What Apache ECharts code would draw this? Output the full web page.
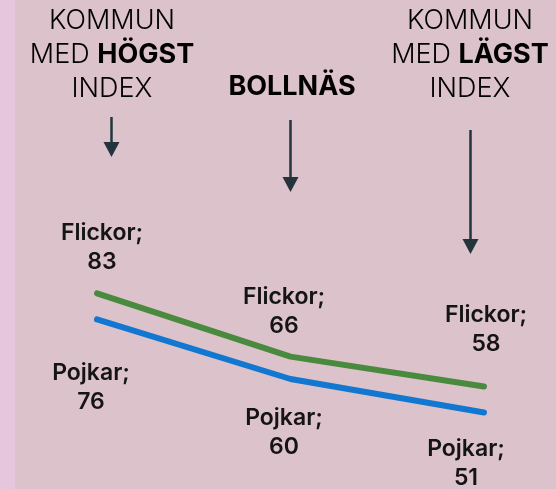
<!DOCTYPE html>
<html><head><meta charset="utf-8">
<script src="https://cdn.jsdelivr.net/npm/echarts@6/dist/echarts.min.js"></script>
<style>html,body{margin:0;padding:0;background:#dcc2ca}#c{width:556px;height:489px}</style>
</head><body><div id="c"></div>
<script>
const categories = ['Kommun med högst index', 'Bollnäs', 'Kommun med lägst index'];
const flickor = [83, 66, 58];
const pojkar = [76, 60, 51];
const seriesNames = ['Flickor', 'Pojkar'];

// label placement (style only)
const flickorLabelPos = [{dx: 5, dist: 16}, {dx: -6.5, dist: 15.5}, {dx: 2, dist: 27}];
const pojkarLabelPos = [{dx: -6, dist: 39}, {dx: -6.5, dist: 24}, {dx: -18, dist: 21.5}];

const LABEL_FONT = 'Inter, "Noto Sans", sans-serif';
const HEAD_FONT = 'Inter, Lato, "Noto Sans", sans-serif';
const ARROW = '#24343d';

function build(values, pos, position) {
  return values.map((v, i) => ({
    value: v,
    label: {position: position, distance: pos[i].dist, offset: [pos[i].dx, 0]}
  }));
}

function arrow(x, y0, y1) {
  return {
    type: 'group',
    children: [
      {type: 'line', shape: {x1: x, y1: y0, x2: x, y2: y1 - 12}, style: {stroke: ARROW, lineWidth: 2.5}},
      {type: 'polygon', shape: {points: [[x - 8, y1 - 15], [x + 8, y1 - 15], [x, y1]]}, style: {fill: ARROW}}
    ]
  };
}

const rich = {
  l: {fontFamily: HEAD_FONT, fontWeight: 300, fontSize: 27, lineHeight: 34, color: '#1a1a1a'},
  b: {fontFamily: HEAD_FONT, fontWeight: 700, fontSize: 27, lineHeight: 34, color: '#111'}
};

const chart = echarts.init(document.getElementById('c'), null, {renderer: 'canvas'});
chart.setOption({
  backgroundColor: '#dcc2ca',
  animation: false,
  grid: {left: 97, right: 72, top: 230, bottom: 35.5},
  xAxis: {type: 'category', data: categories, boundaryGap: false, show: false},
  yAxis: {type: 'value', min: 40, max: 100, show: false},
  series: [
    {
      name: seriesNames[0], type: 'line', data: build(flickor, flickorLabelPos, 'top'),
      symbol: 'circle', symbolSize: 1, itemStyle: {color: '#4a8a3e'},
      lineStyle: {color: '#4a8a3e', width: 6, cap: 'round', join: 'round'},
      label: {show: true, formatter: p => p.seriesName + ';\n' + p.value,
        fontFamily: LABEL_FONT, fontWeight: 600, fontSize: 23, lineHeight: 29, color: '#141414', align: 'center'}
    },
    {
      name: seriesNames[1], type: 'line', data: build(pojkar, pojkarLabelPos, 'bottom'),
      symbol: 'circle', symbolSize: 1, itemStyle: {color: '#1277d0'},
      lineStyle: {color: '#1277d0', width: 6, cap: 'round', join: 'round'},
      label: {show: true, formatter: p => p.seriesName + ';\n' + p.value,
        fontFamily: LABEL_FONT, fontWeight: 600, fontSize: 23, lineHeight: 29, color: '#141414', align: 'center'}
    }
  ],
  graphic: [
    {type: 'rect', shape: {x: 0, y: 0, width: 15, height: 489}, style: {fill: '#e5c6dc'}, silent: true},
    {type: 'text', x: 112, y: 55, style: {text: '{l|KOMMUN}\n{l|MED }{b|HÖGST}\n{l|INDEX}', rich: rich, align: 'center', verticalAlign: 'middle'}},
    {type: 'text', x: 292, y: 87, style: {text: '{b|BOLLNÄS}', rich: rich, align: 'center', verticalAlign: 'middle'}},
    {type: 'text', x: 470, y: 55, style: {text: '{l|KOMMUN}\n{l|MED }{b|LÄGST}\n{l|INDEX}', rich: rich, align: 'center', verticalAlign: 'middle'}},
    arrow(111.5, 117, 157),
    arrow(290.5, 120, 192),
    arrow(470.5, 130, 254)
  ]
});
</script>
</body></html>
